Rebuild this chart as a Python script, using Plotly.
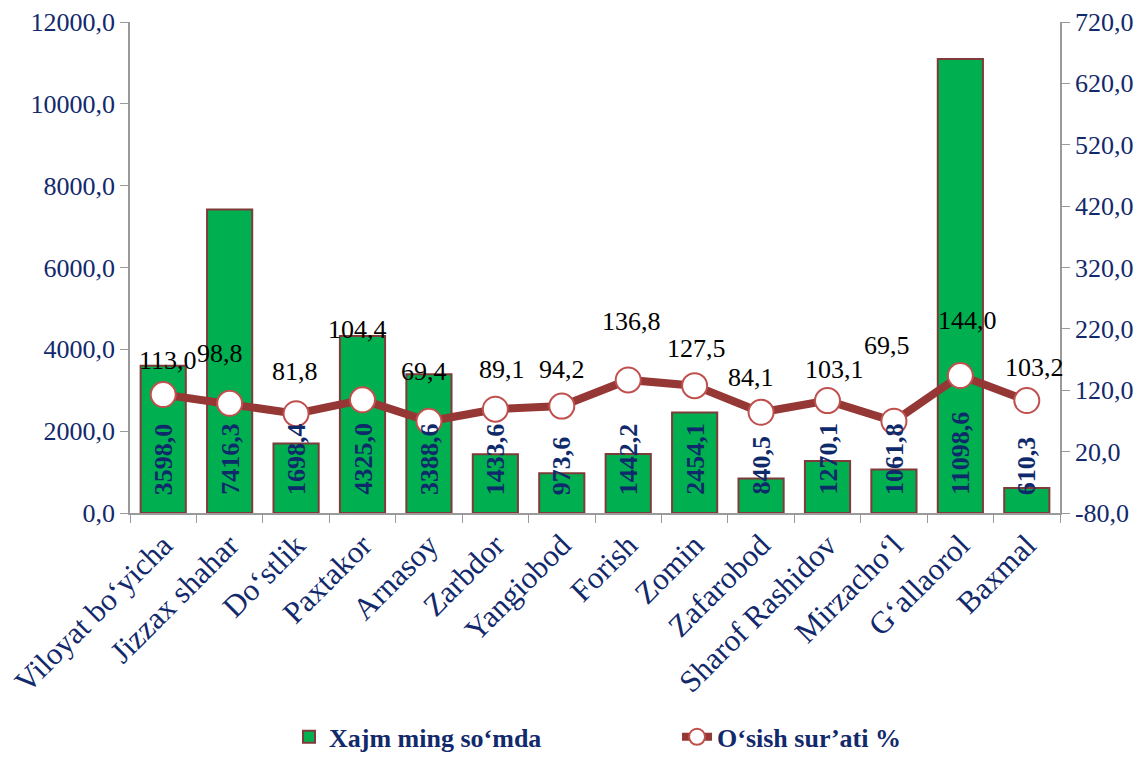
import plotly.graph_objects as go

categories = ["Viloyat bo‘yicha", "Jizzax shahar", "Do‘stlik", "Paxtakor", "Arnasoy",
              "Zarbdor", "Yangiobod", "Forish", "Zomin", "Zafarobod",
              "Sharof Rashidov", "Mirzacho‘l", "G‘allaorol", "Baxmal"]
volume = [3598.0, 7416.3, 1698.4, 4325.0, 3388.6, 1433.6, 973.6, 1442.2, 2454.1,
          840.5, 1270.1, 1061.8, 11098.6, 610.3]
growth = [113.0, 98.8, 81.8, 104.4, 69.4, 89.1, 94.2, 136.8, 127.5, 84.1, 103.1,
          69.5, 144.0, 103.2]
left_ticks = [0, 2000, 4000, 6000, 8000, 10000, 12000]
right_ticks = [-80, 20, 120, 220, 320, 420, 520, 620, 720]

# label placement offsets (pixels) for the growth-rate labels
label_dx = [5, -10, -1, -5, -5, 7, 0, 3, 2, -10, 7, -7, 7, 8]
label_dy = [34, 50, 42, 70, 50, 40, 37, 58, 37, 35, 31, 76, 55, 33]

def fmt(v):
    return f"{v:.1f}".replace(".", ",")

NAVY = "#12296B"
FONT = "Liberation Serif"

fig = go.Figure()
fig.add_trace(go.Bar(
    x=categories, y=volume, name="Xajm ming so‘mda",
    marker=dict(color="#00B050", line=dict(color="#7F3A3A", width=2)),
    width=0.68, yaxis="y",
))
fig.add_trace(go.Scatter(
    x=categories, y=growth, name="O‘sish sur’ati %",
    mode="lines+markers",
    line=dict(color="#953735", width=8),
    marker=dict(size=25, color="white", line=dict(color="#C0504D", width=2)),
    yaxis="y2",
))

for c, v in zip(categories, volume):
    fig.add_annotation(x=c, y=0, xref="x", yref="y", text=f"<b>{fmt(v)}</b>",
                       textangle=-90, yanchor="bottom", yshift=16, showarrow=False,
                       font=dict(family=FONT, size=26, color="#0F2A6B"))

for c, g, dx, dy in zip(categories, growth, label_dx, label_dy):
    fig.add_annotation(x=c, y=g, xref="x", yref="y2", text=fmt(g),
                       yanchor="middle", xshift=dx, yshift=dy, showarrow=False,
                       font=dict(family=FONT, size=26, color="black"))

axis_common = dict(showline=True, linecolor="#9A9A9A", linewidth=1.5,
                   ticks="outside", ticklen=8, tickcolor="#9A9A9A",
                   showgrid=False, zeroline=False, automargin=False)

fig.update_layout(
    width=1145, height=773,
    margin=dict(l=130, r=85, t=22, b=258),
    plot_bgcolor="white", paper_bgcolor="white",
    font=dict(family=FONT, color=NAVY),
    xaxis=dict(tickangle=-45, tickfont=dict(family=FONT, size=31, color=NAVY),
               tickson="boundaries", range=[-0.5, len(categories) - 0.5],
               **axis_common),
    yaxis=dict(range=[0, 12000], tickvals=left_ticks,
               ticktext=[fmt(v) for v in left_ticks],
               tickfont=dict(family=FONT, size=26, color=NAVY), **axis_common),
    yaxis2=dict(range=[-80, 720], tickvals=right_ticks,
                ticktext=[fmt(v) for v in right_ticks], overlaying="y", side="right",
                tickfont=dict(family=FONT, size=26, color=NAVY), **axis_common),
    legend=dict(orientation="h", x=0.171, xanchor="left", y=-0.456, yanchor="middle",
                entrywidth=343, font=dict(family=FONT, size=26, color=NAVY,
                                          weight="bold")),
    showlegend=True,
)

fig.write_html("out.html", config={"displayModeBar": False},
               post_script="document.body.style.margin='0px';document.body.style.overflow='hidden';")
